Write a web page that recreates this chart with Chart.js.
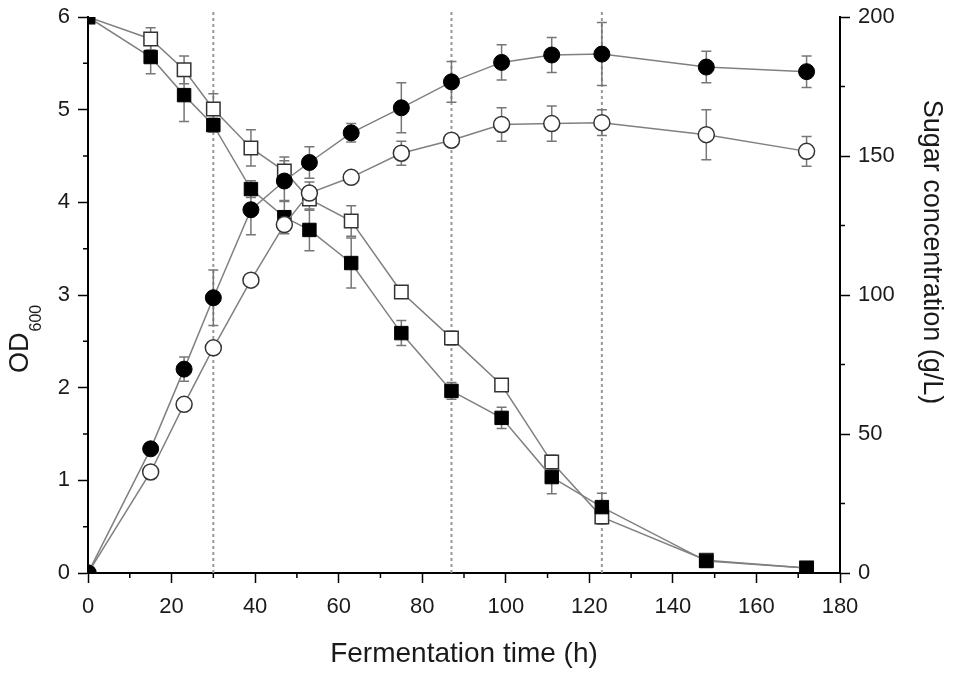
<!DOCTYPE html>
<html>
<head>
<meta charset="utf-8">
<script src="https://cdn.jsdelivr.net/npm/chart.js@4"></script>
<style>
  html, body { margin: 0; padding: 0; background: #fff; }
  #wrap { width: 953px; height: 677px; }
</style>
</head>
<body>
<div id="wrap"><canvas id="myChart"></canvas></div>
<script>
// fermentation time (h)
const time = [0, 15, 23, 30, 39, 47, 53, 63, 75, 87, 99, 111, 123, 148, 172];

// OD600, left axis
const odFilled    = [0, 1.34, 2.20, 2.97, 3.92, 4.23, 4.43, 4.75, 5.02, 5.30, 5.51, 5.59, 5.60, 5.46, 5.41];
const odFilledErr = [0, 0.03, 0.13, 0.30, 0.27, 0.22, 0.17, 0.10, 0.27, 0.22, 0.19, 0.19, 0.34, 0.17, 0.17];
const odOpen      = [0, 1.09, 1.82, 2.43, 3.16, 3.76, 4.10, 4.27, 4.53, 4.67, 4.84, 4.85, 4.86, 4.73, 4.55];
const odOpenErr   = [0, 0.05, 0.04, 0.05, 0.04, 0.06, 0.12, 0.05, 0.13, 0.06, 0.18, 0.19, 0.14, 0.27, 0.16];

// sugar concentration (g/L), right axis
const sugarFilled    = [200, 185.6, 171.9, 161.1, 138.1, 128.0, 123.4, 111.5, 86.3, 65.5, 55.8, 34.5, 23.7, 4.3, 1.8];
const sugarFilledErr = [0, 6, 9.5, 2.5, 3, 6, 7.5, 9, 4.5, 3, 3.8, 6, 5, 1, 0.5];
const sugarOpen      = [200, 192.1, 181.0, 166.9, 152.9, 144.6, 134.5, 126.6, 101.1, 84.5, 67.6, 39.9, 20.1, 4.6, 1.8];
const sugarOpenErr   = [0, 4, 5, 5.5, 6.5, 5, 4, 5.5, 1.5, 2.5, 2, 2.5, 2.5, 0.5, 0.5];

// dotted vertical markers
const markerTimes = [30, 87, 123];

const xTitle = 'Fermentation time (h)';
const yTitle = 'OD';
const ySub = '600';
const y2Title = 'Sugar concentration (g/L)';

const pts = (ys) => time.map((t, i) => ({ x: t, y: ys[i] }));
const INK = '#1a1a1a';
const LINE = '#808080';
const FONT = '"Liberation Sans", Arial, sans-serif';

// error bars, marker lines, minor ticks and axis titles
const extras = {
  id: 'extras',
  beforeDatasetsDraw(chart) {
    const { ctx, chartArea, scales } = chart;
    ctx.save();
    ctx.strokeStyle = '#999';
    ctx.lineWidth = 2;
    ctx.setLineDash([3, 3]);
    markerTimes.forEach(t => {
      const px = scales.x.getPixelForValue(t);
      ctx.beginPath();
      ctx.moveTo(px, chartArea.top - 5);
      ctx.lineTo(px, chartArea.bottom);
      ctx.stroke();
    });
    ctx.setLineDash([]);
    ctx.strokeStyle = '#777';
    ctx.lineWidth = 1.5;
    chart.data.datasets.forEach((ds) => {
      const ys = scales[ds.yAxisID];
      ds.data.forEach((p, i) => {
        const e = ds.errors[i];
        if (!e) return;
        const px = scales.x.getPixelForValue(p.x);
        const top = ys.getPixelForValue(p.y + e);
        const bot = ys.getPixelForValue(p.y - e);
        ctx.beginPath();
        ctx.moveTo(px, top); ctx.lineTo(px, bot);
        ctx.moveTo(px - 5, top); ctx.lineTo(px + 5, top);
        ctx.moveTo(px - 5, bot); ctx.lineTo(px + 5, bot);
        ctx.stroke();
      });
    });
    ctx.restore();
  },
  afterDraw(chart) {
    const { ctx, chartArea, scales } = chart;
    ctx.save();
    // minor ticks
    ctx.strokeStyle = '#000';
    ctx.lineWidth = 1.5;
    ctx.beginPath();
    for (let v = 10; v < 180; v += 20) {
      const px = scales.x.getPixelForValue(v);
      ctx.moveTo(px, chartArea.bottom); ctx.lineTo(px, chartArea.bottom + 5);
    }
    for (let v = 0.5; v < 6; v += 1) {
      const py = scales.y.getPixelForValue(v);
      ctx.moveTo(chartArea.left, py); ctx.lineTo(chartArea.left - 5, py);
    }
    for (let v = 25; v < 200; v += 50) {
      const py = scales.y2.getPixelForValue(v);
      ctx.moveTo(chartArea.right, py); ctx.lineTo(chartArea.right + 5, py);
    }
    ctx.stroke();

    // axis titles
    ctx.fillStyle = INK;
    ctx.font = '28px ' + FONT;
    ctx.textAlign = 'center';
    ctx.textBaseline = 'alphabetic';
    ctx.fillText(xTitle, (chartArea.left + chartArea.right) / 2, 662);

    ctx.save();
    ctx.translate(28, 373);
    ctx.rotate(-Math.PI / 2);
    ctx.textAlign = 'left';
    ctx.font = '27px ' + FONT;
    ctx.fillText(yTitle, 0, 0);
    const w = ctx.measureText(yTitle).width;
    ctx.font = '16px ' + FONT;
    ctx.fillText(ySub, w + 1, 13);
    ctx.restore();

    ctx.save();
    ctx.translate(924, 252);
    ctx.rotate(Math.PI / 2);
    ctx.font = '27px ' + FONT;
    ctx.textAlign = 'center';
    ctx.fillText(y2Title, 0, 0);
    ctx.restore();
    ctx.restore();
  }
};

const axisGrid = { drawOnChartArea: false, drawTicks: true, tickLength: 10, color: '#000', tickWidth: 1.5 };
const axisBorder = { display: true, color: '#000', width: 2 };
const tickFont = { family: FONT, size: 22 };
const fitY = (w) => (s) => { s.width = w; s.paddingTop = 0; s.paddingBottom = 0; };

new Chart(document.getElementById('myChart'), {
  type: 'scatter',
  data: {
    datasets: [
      { data: pts(odFilled), errors: odFilledErr, yAxisID: 'y', showLine: true,
        borderColor: LINE, borderWidth: 1.5, pointStyle: 'circle', pointRadius: 8,
        pointBackgroundColor: '#000', pointBorderColor: '#000', pointBorderWidth: 1 },
      { data: pts(odOpen), errors: odOpenErr, yAxisID: 'y', showLine: true,
        borderColor: LINE, borderWidth: 1.5, pointStyle: 'circle', pointRadius: 8,
        pointBackgroundColor: '#fff', pointBorderColor: '#333', pointBorderWidth: 1.5 },
      { data: pts(sugarFilled), errors: sugarFilledErr, yAxisID: 'y2', showLine: true,
        borderColor: LINE, borderWidth: 1.5, pointStyle: 'rect', pointRadius: 9.5,
        pointBackgroundColor: '#000', pointBorderColor: '#000', pointBorderWidth: 1 },
      { data: pts(sugarOpen), errors: sugarOpenErr, yAxisID: 'y2', showLine: true,
        borderColor: LINE, borderWidth: 1.5, pointStyle: 'rect', pointRadius: 9.5,
        pointBackgroundColor: '#fff', pointBorderColor: '#333', pointBorderWidth: 1.5 }
    ]
  },
  options: {
    responsive: true,
    maintainAspectRatio: false,
    animation: false,
    layout: { padding: { top: 17, left: 0, right: 0, bottom: 0 } },
    scales: {
      x: {
        type: 'linear', min: 0, max: 180,
        grid: axisGrid, border: axisBorder,
        ticks: { stepSize: 20, color: INK, font: tickFont, padding: 11, maxRotation: 0 },
        afterFit: (s) => { s.height = 104; s.paddingLeft = 0; s.paddingRight = 0; }
      },
      y: {
        position: 'left', min: 0, max: 6,
        grid: axisGrid, border: axisBorder,
        ticks: { stepSize: 1, color: INK, font: tickFont, padding: 8 },
        afterFit: fitY(88)
      },
      y2: {
        position: 'right', min: 0, max: 200,
        grid: axisGrid, border: axisBorder,
        ticks: { stepSize: 50, color: INK, font: tickFont, padding: 8 },
        afterFit: fitY(113)
      }
    },
    plugins: {
      legend: { display: false },
      tooltip: { enabled: false },
      title: { display: false }
    }
  },
  plugins: [extras]
});
</script>
</body>
</html>
